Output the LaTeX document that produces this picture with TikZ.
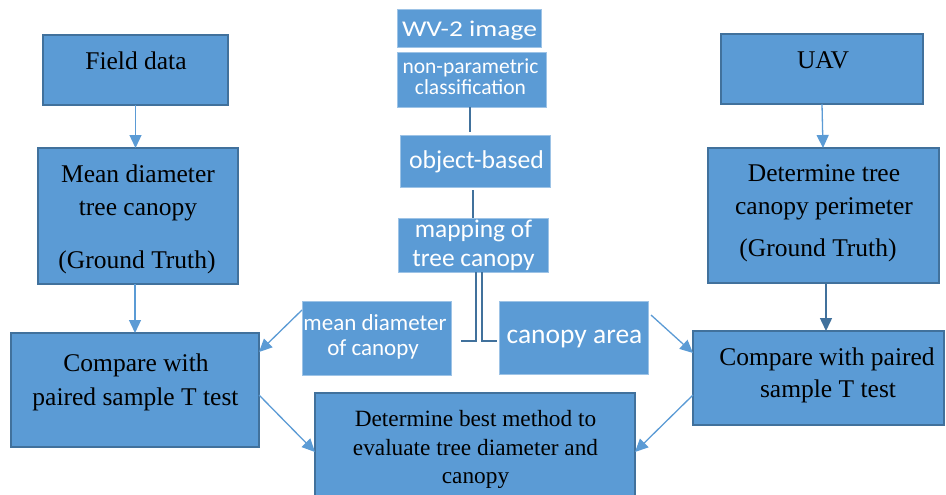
\documentclass[tikz,border=0pt]{standalone}
\usepackage{fontspec}
\setmainfont{Liberation Serif}
\newfontfamily\cfont{Carlito}
\newfontfamily\cfontw[FakeStretch=1.22]{Carlito}
\usetikzlibrary{arrows.meta}
\definecolor{boxfill}{HTML}{5B9BD5}
\definecolor{boxline}{HTML}{41719C}
\definecolor{edgelight}{HTML}{9DC3E6}
\tikzset{
  box/.style={draw=boxline, line width=1.5pt, fill=boxfill, inner sep=0pt, outer sep=0pt},
  cbox/.style={draw=edgelight, line width=0.8pt, fill=boxfill, inner sep=0pt, outer sep=0pt},
  serif/.style={anchor=base, inner sep=0pt, text=black, font=\fontsize{25.5}{34}\selectfont},
  serifs/.style={anchor=base, inner sep=0pt, text=black, font=\fontsize{23.3}{29}\selectfont},
  ctext/.style={anchor=base, inner sep=0pt, text=white},
  arr/.style={draw=boxfill, line width=1.3pt, -{Triangle[length=13pt,width=12pt]}},
  darr/.style={draw=boxline, line width=1.5pt, -{Triangle[length=13pt,width=12pt]}},
  link/.style={draw=boxline, line width=1.8pt},
}
\begin{document}
\begin{tikzpicture}[x=1pt,y=-1pt]
\clip (0,0) rectangle (946,495);
\fill[white] (0,0) rectangle (946,495);

% left column
\node[box, minimum width=185pt, minimum height=70pt] (fd) at (135.5,70) {};
\node[box, minimum width=200pt, minimum height=136pt] (md) at (138,216) {};
\node[box, minimum width=248pt, minimum height=114pt] (cl) at (135,390) {};
% right column
\node[box, minimum width=202pt, minimum height=70pt] (uav) at (822,69) {};
\node[box, minimum width=231pt, minimum height=135pt] (dt) at (823.5,215.5) {};
\node[box, minimum width=251pt, minimum height=94pt] (cr) at (818.5,378) {};
% centre column
\node[cbox, minimum width=144pt, minimum height=38pt] (wv) at (469,28) {};
\node[cbox, minimum width=149pt, minimum height=55pt] (np) at (471.5,79.5) {};
\node[cbox, minimum width=150pt, minimum height=52pt] (ob) at (475,161) {};
\node[cbox, minimum width=150pt, minimum height=54pt] (mp) at (473,245) {};
\node[cbox, minimum width=149pt, minimum height=74pt] (mdc) at (376.5,338) {};
\node[cbox, minimum width=149pt, minimum height=73pt] (ca) at (573.5,337.5) {};
% bottom
\node[box, minimum width=320pt, minimum height=107pt] (bm) at (475,446.5) {};

% serif texts
\node[serif] (tfd) at (136,70) {Field data};
\node[serif] (tmd1) at (138,182) {Mean diameter};
\node[serif] (tmd2) at (138,215) {tree canopy};
\node[serif] (tmd3) at (137,268) {(Ground Truth)};
\node[serif] (tcl1) at (136,371) {Compare with};
\node[serif] (tcl2) at (135.5,405) {paired sample T test};
\node[serif] (tuav) at (823,69) {UAV};
\node[serif] (tdt1) at (824,181) {Determine tree};
\node[serif] (tdt2) at (824,214) {canopy perimeter};
\node[serif] (tdt3) at (818,256) {(Ground Truth)};
\node[serif] (tcr1) at (827,365) {Compare with paired};
\node[serif] (tcr2) at (828,397) {sample T test};
\node[serifs] (tbm1) at (475.5,426) {Determine best method to};
\node[serifs] (tbm2) at (475.5,455) {evaluate tree diameter and};
\node[serifs] (tbm3) at (475.5,483) {canopy};

% centre texts
\node[ctext, font=\cfontw\fontsize{22.5}{24}\selectfont] (twv) at (469.5,37) {WV-2 image};
\node[ctext, font=\cfont\fontsize{21.5}{21}\selectfont] (tnp1) at (470.5,74) {non-parametric};
\node[ctext, font=\cfont\fontsize{21.5}{21}\selectfont] (tnp2) at (470.5,95) {classification};
\node[ctext, font=\cfont\fontsize{25.7}{28}\selectfont] (tob) at (476.5,168) {object-based};
\node[ctext, font=\cfont\fontsize{25.4}{28}\selectfont] (tmp1) at (473.5,237) {mapping of};
\node[ctext, font=\cfont\fontsize{25.4}{28}\selectfont] (tmp2) at (473.5,266) {tree canopy};
\node[ctext, font=\cfont\fontsize{23}{25}\selectfont] (tmdc1) at (375,330) {mean diameter};
\node[ctext, font=\cfont\fontsize{23}{25}\selectfont] (tmdc2) at (373,355) {of canopy};
\node[ctext, font=\cfont\fontsize{27.5}{30}\selectfont] (tca) at (574.5,343) {canopy area};

% arrows left / right columns
\draw[arr] (fd.south) -- (fd.south |- md.north);
\draw[arr] (cl.north |- md.south) -- (cl.north);
\draw[arr] (uav.south) -- ([xshift=1pt]uav.south |- dt.north);
\draw[darr] ([xshift=2.5pt]dt.south) -- ([xshift=2.5pt]dt.south |- cr.north);
% diagonal arrows
\draw[arr] ([yshift=-9pt]mdc.north west) -- ([yshift=38pt]cl.east);
\draw[arr] ([xshift=3pt,yshift=-14pt]ca.north east) -- ([yshift=25pt]cr.west);
\draw[arr] ([yshift=-5pt]cl.east) -- ([yshift=-5.5pt]bm.west);
\draw[arr] ([yshift=-17pt]cr.west) -- ([yshift=-5.5pt]bm.east);

% centre links
\draw[link, shorten >=3pt] ([xshift=-1.5pt]np.south) -- ([xshift=-1.5pt]np.south |- ob.north);
\draw[link, shorten <=3pt] (mp.north |- ob.south) -- (mp.north);
\draw[link, shorten >=10pt] ([xshift=3pt]mp.south) |- ([yshift=-3pt]mdc.east);
\draw[link, shorten >=2pt] ([xshift=9pt]mp.south) |- ([yshift=-3.5pt]ca.west);
\end{tikzpicture}
\end{document}
